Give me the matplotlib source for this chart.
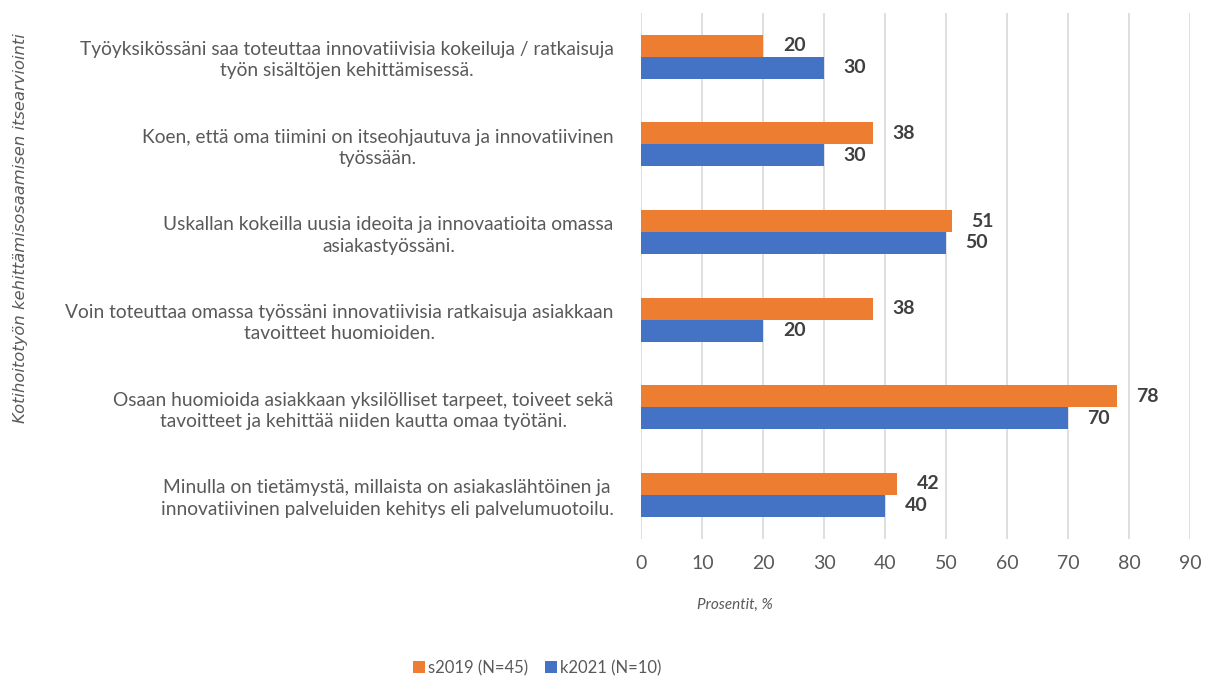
import numpy as np
import matplotlib.pyplot as plt

# Kysymykset ylhaalta alas
categories = [
    'Työyksikössäni saa toteuttaa innovatiivisia kokeiluja / ratkaisuja\ntyön sisältöjen kehittämisessä.',
    'Koen, että oma tiimini on itseohjautuva ja innovatiivinen\ntyössään.',
    'Uskallan kokeilla uusia ideoita ja innovaatioita omassa\nasiakastyössäni.',
    'Voin toteuttaa omassa työssäni innovatiivisia ratkaisuja asiakkaan\ntavoitteet huomioiden.',
    'Osaan huomioida asiakkaan yksilölliset tarpeet, toiveet sekä\ntavoitteet ja kehittää niiden kautta omaa työtäni.',
    'Minulla on tietämystä, millaista on asiakaslähtöinen ja\ninnovatiivinen palveluiden kehitys eli palvelumuotoilu.',
]
s2019 = [20, 38, 51, 38, 78, 42]
k2021 = [30, 30, 50, 20, 70, 40]
series_names = ['s2019 (N=45)', 'k2021 (N=10)']
xticks = list(range(0, 100, 10))

ORANGE = '#ED7D31'
BLUE = '#4472C4'
TEXT = '#595959'
LABEL = '#404040'

plt.rcParams['font.family'] = ['Lato', 'DejaVu Sans']

fig = plt.figure(figsize=(12.08, 6.81), dpi=100)
ax = fig.add_axes([0.531, 0.209, 0.454, 0.772])

y = np.arange(len(categories))
h = 0.25
b1 = ax.barh(y - h / 2, s2019, height=h, color=ORANGE, label=series_names[0], zorder=3)
b2 = ax.barh(y + h / 2, k2021, height=h, color=BLUE, label=series_names[1], zorder=3)

for bars in (b1, b2):
    ax.bar_label(bars, padding=14, fontsize=14, fontweight='bold', color=LABEL)

ax.set_xlim(0, 90)
ax.set_ylim(len(categories) - 0.5, -0.5)
ax.set_xticks(xticks)
ax.set_yticks(y)
ax.set_yticklabels(categories, multialignment='center', fontsize=13.8, color=TEXT,
                   linespacing=1.3)
ax.tick_params(axis='y', length=0, pad=20)
ax.tick_params(axis='x', length=0, pad=12, labelsize=14, labelcolor=TEXT)
ax.grid(axis='x', color='#D9D9D9', linewidth=1.2, zorder=0)
for s in ax.spines.values():
    s.set_visible(False)

fig.text(0.608, 0.112, 'Prosentit, %', style='italic', fontsize=11, color=TEXT,
         ha='center', va='center')
fig.text(0.017, 0.665, 'Kotihoitotyön kehittämisosaamisen itsearviointi', style='italic',
         fontsize=11.8, color=TEXT, rotation=90, ha='center', va='center',
         family=['DejaVu Sans'])

fig.legend(loc='center', bbox_to_anchor=(0.445, 0.019), ncol=2, frameon=False,
           fontsize=12, labelcolor=TEXT, handlelength=0.7, handleheight=0.7,
           handletextpad=0.2, columnspacing=1.0)

fig.savefig('out.png', dpi=100)
